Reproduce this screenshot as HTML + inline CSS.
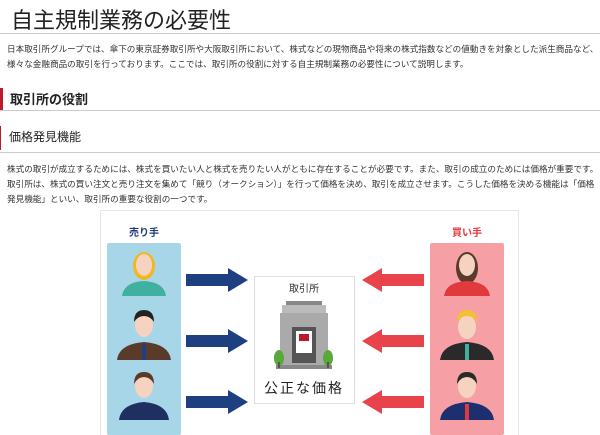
<!DOCTYPE html>
<html><head><meta charset="utf-8"><style>
body{margin:0;width:600px;height:435px;overflow:hidden;background:#fff;font-family:"Liberation Sans","Noto Sans CJK JP",sans-serif;color:#222;position:relative}
.a{position:absolute;white-space:nowrap}
.p{font-size:8.6px;line-height:15px;color:#333}
</style></head><body>
<div class="a" style="left:11px;top:3px;font-size:22px;">自主規制業務の必要性</div>
<div class="a" style="left:0;top:33px;width:600px;height:1px;background:#ccc"></div>
<div class="a p" style="left:7px;top:42px;">日本取引所グループでは、傘下の東京証券取引所や大阪取引所において、株式などの現物商品や将来の株式指数などの値動きを対象とした派生商品など、<br>様々な金融商品の取引を行っております。ここでは、取引所の役割に対する自主規制業務の必要性について説明します。</div>
<div class="a" style="left:0;top:88px;width:3px;height:22px;background:#c0192c"></div>
<div class="a" style="left:10px;top:89px;font-size:13px;font-weight:bold;">取引所の役割</div>
<div class="a" style="left:0;top:110px;width:600px;height:1px;background:#ccc"></div>
<div class="a" style="left:0;top:126px;width:1px;height:24px;background:#c0192c"></div>
<div class="a" style="left:9px;top:128px;font-size:12px;">価格発見機能</div>
<div class="a" style="left:0;top:152px;width:600px;height:1px;background:#ccc"></div>
<div class="a p" style="left:7px;top:162px;">株式の取引が成立するためには、株式を買いたい人と株式を売りたい人がともに存在することが必要です。また、取引の成立のためには価格が重要です。<br>取引所は、株式の買い注文と売り注文を集めて「競り（オークション）」を行って価格を決め、取引を成立させます。こうした価格を決める機能は「価格<br>発見機能」といい、取引所の重要な役割の一つです。</div>
<svg class="a" style="left:0;top:0" width="600" height="435">
<rect x="100.5" y="210.5" width="418" height="230" fill="none" stroke="#e4e4e4"/>
<rect x="107" y="243" width="74" height="192" rx="2" fill="#a6d6e8"/>
<rect x="430" y="243" width="74" height="192" rx="2" fill="#f6a0a6"/>
<text x="144" y="236" font-size="10" font-weight="bold" fill="#1e3a78" text-anchor="middle">売り手</text>
<text x="467" y="236" font-size="10" font-weight="bold" fill="#e03a3e" text-anchor="middle">買い手</text>
<g fill="#1e3f80">
<polygon points="186,274 228,274 228,268 248,280 228,292 228,286 186,286"/>
<polygon points="186,335 228,335 228,329 248,341 228,353 228,347 186,347"/>
<polygon points="186,396 228,396 228,390 248,402 228,414 228,408 186,408"/>
</g>
<g fill="#e8434a">
<polygon points="424,274 382,274 382,268 362,280 382,292 382,286 424,286"/>
<polygon points="424,335 382,335 382,329 362,341 382,353 382,347 424,347"/>
<polygon points="424,396 382,396 382,390 362,402 382,414 382,408 424,408"/>
</g>
<rect x="254.5" y="276.5" width="100" height="127" fill="#fff" stroke="#ddd"/>
<text x="304" y="292" font-size="10" text-anchor="middle" fill="#333">取引所</text>
<rect x="286" y="301" width="36" height="4" fill="#888"/>
<rect x="282" y="305" width="44" height="8" fill="#bbb"/>
<rect x="280" y="313" width="48" height="52" fill="#aaa"/>
<rect x="292" y="327" width="24" height="36" fill="#555"/>
<rect x="296" y="331" width="16" height="22" fill="#fff"/>
<rect x="299" y="334" width="10" height="7" fill="#c0192c"/>
<rect x="276" y="365" width="56" height="4" fill="#888"/>
<ellipse cx="279" cy="358" rx="5" ry="8" fill="#5aa83a"/><rect x="278" y="362" width="2" height="6" fill="#555"/>
<ellipse cx="328" cy="358" rx="5" ry="8" fill="#5aa83a"/><rect x="327" y="362" width="2" height="6" fill="#555"/>
<text x="304" y="393" font-size="14" text-anchor="middle" fill="#222" letter-spacing="2">公正な価格</text>
<!-- sellers -->
<g>
<ellipse cx="144" cy="266" rx="11" ry="14" fill="#f2b824"/><ellipse cx="144" cy="265" rx="8" ry="11" fill="#f6d3c0"/>
<path d="M122,296 Q124,282 144,281 Q164,282 166,296Z" fill="#40b0a0"/>
<ellipse cx="144" cy="325" rx="9" ry="12" fill="#f6d3c0"/><path d="M134,322 Q134,310 144,310 Q154,310 154,322 Q150,316 144,316 Q138,316 134,322Z" fill="#222"/>
<path d="M117,360 Q119,344 144,342 Q169,344 171,360Z" fill="#5a3a2a"/><rect x="142" y="344" width="4" height="16" fill="#1e3f80"/>
<ellipse cx="144" cy="386" rx="9" ry="12" fill="#f6d3c0"/><path d="M134,384 Q134,372 144,372 Q154,372 154,384 Q150,377 144,377 Q138,377 134,384Z" fill="#5a3a2a"/>
<path d="M119,420 Q121,404 144,402 Q167,404 169,420Z" fill="#1e2f60"/>
</g>
<g>
<ellipse cx="467" cy="268" rx="11" ry="16" fill="#5a3a2a"/><ellipse cx="467" cy="265" rx="8" ry="11" fill="#f6d3c0"/>
<path d="M444,296 Q446,282 467,281 Q488,282 490,296Z" fill="#e03a3e"/>
<ellipse cx="467" cy="327" rx="9" ry="12" fill="#f6d3c0"/><path d="M457,322 Q457,310 467,310 Q477,310 477,322 Q473,316 467,316 Q461,316 457,322Z" fill="#f2c030"/>
<path d="M440,360 Q442,344 467,342 Q492,344 494,360Z" fill="#2a2a2a"/><rect x="465" y="344" width="4" height="16" fill="#40b0a0"/>
<ellipse cx="467" cy="386" rx="9" ry="12" fill="#f6d3c0"/><path d="M457,384 Q457,372 467,372 Q477,372 477,384 Q473,377 467,377 Q461,377 457,384Z" fill="#2a2a2a"/>
<path d="M440,420 Q442,404 467,402 Q492,404 494,420Z" fill="#1e2f70"/><rect x="465" y="404" width="4" height="16" fill="#e03a3e"/>
</g>
</svg>
</body></html>
